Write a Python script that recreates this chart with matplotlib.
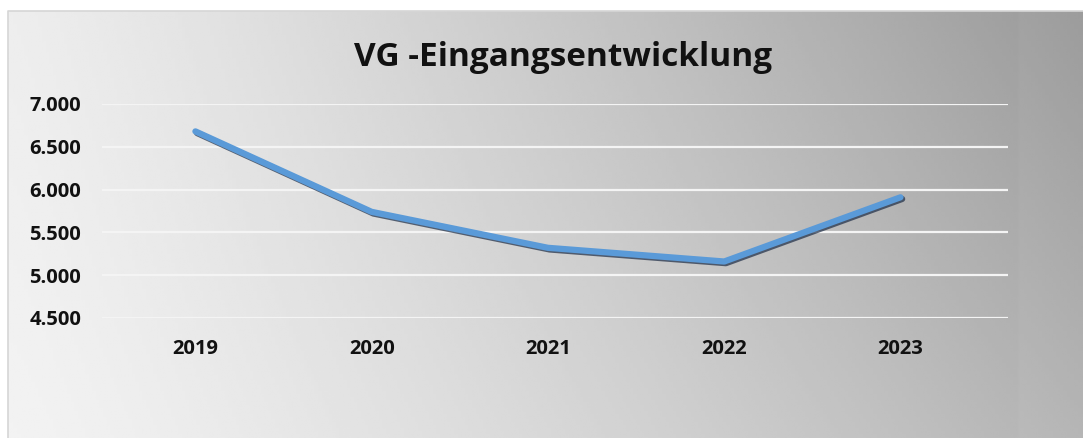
import numpy as np
import matplotlib
matplotlib.use("Agg")
import matplotlib.pyplot as plt
import matplotlib.patheffects as pe

# =============================
# DATOS
# =============================
years = ["2019", "2020", "2021", "2022", "2023"]
eingaenge = [6680, 5740, 5320, 5160, 5910]
yticks = [4500, 5000, 5500, 6000, 6500, 7000]
ytick_labels = ["4.500", "5.000", "5.500", "6.000", "6.500", "7.000"]

W, H = 1083, 438
fig = plt.figure(figsize=(W / 100, H / 100), dpi=100)
fig.patch.set_facecolor("white")

# =============================
# HINTERGRUND (Verlauf)
# =============================
bg = fig.add_axes([0, 0, 1, 1])
bg.set_xlim(0, W)
bg.set_ylim(H, 0)
bg.axis("off")
xs = np.linspace(0, 1, 300)
ys = np.linspace(0, 1, 150)
X, Y = np.meshgrid(xs, ys)
grad = 0.93 - 0.33 * X ** 1.2 + 0.10 * X * Y + 0.02 * (1 - X) * Y
grad[:, xs > 0.94] += 0.012
grad = np.clip(grad, 0, 1)
bg.imshow(grad, cmap="gray", vmin=0, vmax=1, extent=(8, W, H, 11),
          aspect="auto", interpolation="bilinear")
bg.plot([8, 8, W], [H, 11, 11], color="#d6d6d6", lw=1.2)

# =============================
# GRAFICO
# =============================
left, right, top, bottom = 102, 1008, 104, 318
ax = fig.add_axes([left / W, 1 - bottom / H, (right - left) / W, (bottom - top) / H])
ax.patch.set_alpha(0)

x = np.arange(len(years))
ax.plot(x, eingaenge, color="#5a9ad8", lw=4.5, solid_capstyle="round",
        solid_joinstyle="round", clip_on=False,
        path_effects=[pe.SimpleLineShadow(offset=(1.2, -1.2), shadow_color="#1a2a44", alpha=0.7),
                      pe.Normal()])

ax.set_ylim(4500, 7000)
ax.set_xlim(-0.53, 4.61)
ax.set_yticks(yticks)
ax.set_yticklabels(ytick_labels)
ax.set_xticks(x)
ax.set_xticklabels(years)
ax.grid(axis="y", color="#f4f4f4", lw=1.6)
ax.set_axisbelow(True)
for s in ax.spines.values():
    s.set_visible(False)
ax.tick_params(length=0)
ax.tick_params(axis="y", pad=15, labelsize=14.5)
ax.tick_params(axis="x", pad=15, labelsize=14.5)
for lbl in ax.get_xticklabels() + ax.get_yticklabels():
    lbl.set_fontweight("bold")
    lbl.set_family("Open Sans")
    lbl.set_color("#111111")

fig.text(563 / W, 1 - 58 / H, "VG -Eingangsentwicklung", ha="center", va="center",
         fontsize=24, fontweight="bold", family="Open Sans", color="#111111")

fig.savefig("out.png", dpi=100)
